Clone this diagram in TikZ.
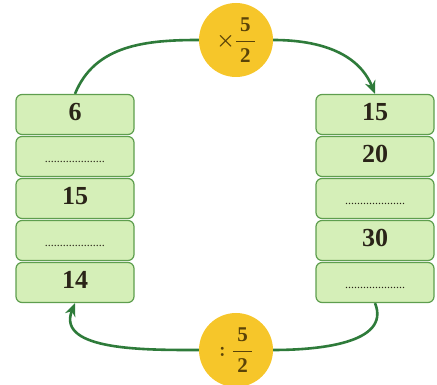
\documentclass[tikz,border=0pt]{standalone}
\usepackage{amsmath}
\usepackage{fontspec}
\setmainfont{Liberation Serif}
\usetikzlibrary{arrows.meta,backgrounds}
\definecolor{boxfill}{HTML}{D5EFB8}
\definecolor{boxline}{HTML}{5E9E4E}
\definecolor{arcgreen}{HTML}{2E7B3A}
\definecolor{opfill}{HTML}{F6C62A}
\definecolor{optext}{HTML}{5A4308}
\definecolor{numtext}{HTML}{2A2418}
% bold fraction with a heavy bar
\newcommand{\opfrac}[2]{\genfrac{}{}{1.4pt}{0}{\,\textbf{#1}\,}{\,\textbf{#2}\,}}
\begin{document}
\begin{tikzpicture}[x=1pt,y=1pt,
  cell/.style={draw=boxline, line width=1.2pt, fill=boxfill, rounded corners=6pt,
    minimum width=118pt, minimum height=40pt, inner sep=0pt,
    text height=26pt, text depth=14pt, text=numtext},
  num/.style={cell, font=\fontsize{26}{30}\selectfont\bfseries},
  blank/.style={cell, font=\fontsize{12}{14}\selectfont},
  op/.style={circle, fill=opfill, minimum size=74pt, inner sep=0pt, text=optext,
    font=\fontsize{21}{24}\selectfont\boldmath},
  link/.style={draw=arcgreen, line width=2.6pt},
  tip/.style={-{Stealth[length=13pt,width=11pt]}}]
\useasboundingbox (0,0) rectangle (437,385);

% left column
\node[num]   (L1) at (75,270.5) {6};
\node[blank] (L2) at (75,228.5) {....................};
\node[num]   (L3) at (75,186.5) {15};
\node[blank] (L4) at (75,144.5) {....................};
\node[num]   (L5) at (75,102.5) {14};

% right column
\node[num]   (R1) at (375,270.5) {15};
\node[num]   (R2) at (375,228.5) {20};
\node[blank] (R3) at (375,186.5) {....................};
\node[num]   (R4) at (375,144.5) {30};
\node[blank] (R5) at (375,102.5) {....................};

% operator discs
\node[op] (top) at (236,345) {$\displaystyle\times\opfrac{5}{2}$};
\node[op] (bot) at (236,35) {$\displaystyle:\opfrac{5}{2}$};

% cycle arcs, kept behind the discs
\begin{scope}[on background layer]
\draw[link] (L1.north) to[out=68,in=180] (top.west);
\draw[link,tip] (top.east) to[out=0,in=112] (R1.north);
\draw[link] (R5.south) to[out=-68,in=0] (bot.east);
\draw[link,tip] (bot.west) to[out=180,in=-112] (L5.south);
\end{scope}
\end{tikzpicture}
\end{document}
